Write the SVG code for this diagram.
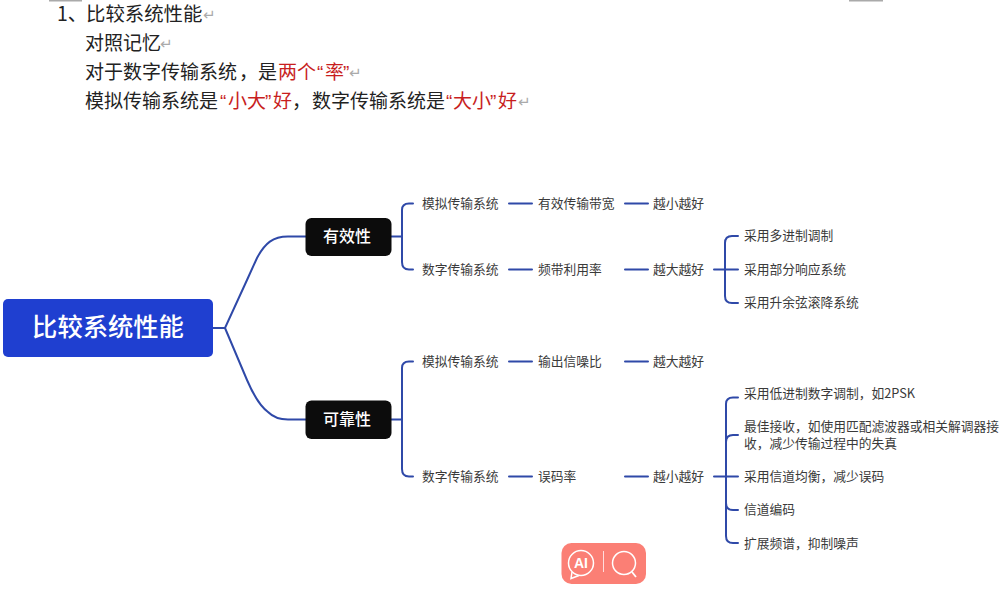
<svg xmlns="http://www.w3.org/2000/svg" width="1005" height="600" viewBox="0 0 1005 600">
<style>
text{font-family:"Noto Sans CJK SC","Noto Sans",sans-serif}
.d{font-size:19px;fill:#222}
.h1{font-size:19.400px;fill:#222}
.r{fill:#c81e1e}
.q{font-family:"Liberation Sans",sans-serif}
.m{fill:#aaa;font-family:"DejaVu Sans",sans-serif;font-size:15px}
.l{font-size:12.750px;fill:#3a3a3a}
.c{fill:none;stroke:#2f49a8;stroke-width:2;stroke-linecap:round}
.b{font-size:16px;fill:#fff;text-anchor:middle;font-weight:500}
</style>
<rect width="1005" height="600" fill="#fff"/>
<rect x="49" y="0" width="33" height="1.500" fill="#aaa"/>
<rect x="849" y="0" width="34" height="1.500" fill="#aaa"/>
<g id="header">
<text class="h1" x="57" y="21">1、</text><text class="h1" x="86" y="21">比较系统性能</text><text class="m" x="203" y="20">↵</text>
<text class="d" x="85" y="50">对照记忆</text><text class="m" x="160" y="49">↵</text>
<text class="d" x="85" y="79">对于数字传输系统</text><text class="d" x="239" y="79">，</text><text class="d" x="258" y="79">是</text><text class="d r" x="278" y="79">两个</text><text class="d r q" x="317" y="79">“</text><text class="d r" x="325" y="79">率</text><text class="d r q" x="343" y="79">”</text><text class="m" x="349" y="78">↵</text>
<text class="d" x="85" y="108">模拟传输系统是</text><text class="d r q" x="220" y="108">“</text><text class="d r" x="228" y="108">小大</text><text class="d r q" x="265" y="108">”</text><text class="d r" x="273" y="108">好</text><text class="d" x="292" y="108">，</text><text class="d" x="312" y="108">数字传输系统是</text><text class="d r q" x="446" y="108">“</text><text class="d r" x="453" y="108">大小</text><text class="d r q" x="490" y="108">”</text><text class="d r" x="498" y="108">好</text><text class="m" x="518" y="107">↵</text>
</g>
<g id="connectors">
<path class="c" d="M213 328H225L247 280L257 258C265 243 273 236.500 288 236.500H306M225 328L247 380C253 394 260 406 268 412C274 418 280 419.500 288 419.500H306"/>
<path class="c" d="M391 236.500H402M413 203.500H409Q402 203.500 402 210V262Q402 269.500 409 269.500H413"/>
<path class="c" d="M391 419.500H402M413 361.500H409Q402 361.500 402 368V469Q402 476.500 409 476.500H413"/>
<path class="c" d="M509 203.500H532M625 203.500H648M509 269.500H532M625 269.500H648M509 361.500H532M625 361.500H648M509 476.500H532M625 476.500H648"/>
<path class="c" d="M714 269.500H738M738 236H732Q725 236 725 243V296Q725 303 732 303H738"/>
<path class="c" d="M714 476.500H738M738 397.500H733Q726 397.500 726 404V536Q726 543 733 543H738M738 435H733Q726 435 726 442M726 503Q726 510 733 510H738"/>
</g>
<g id="root"><rect x="3" y="299" width="210" height="58" rx="5" fill="#1f3fd0"/><text x="108" y="336" font-size="25.300" font-weight="500" fill="#fff" text-anchor="middle">比较系统性能</text></g>
<g id="n1"><rect x="305.500" y="218" width="86" height="38" rx="6" fill="#0c0c0c"/><text class="b" x="347" y="242">有效性</text></g>
<g id="n2"><rect x="305.500" y="400.500" width="86" height="38.500" rx="6" fill="#0c0c0c"/><text class="b" x="347" y="425">可靠性</text></g>
<g id="n3"><text class="l" x="422" y="208">模拟传输系统</text></g>
<g id="n4"><text class="l" x="538" y="208">有效传输带宽</text></g>
<g id="n5"><text class="l" x="653" y="208">越小越好</text></g>
<g id="n6"><text class="l" x="422" y="274">数字传输系统</text></g>
<g id="n7"><text class="l" x="538" y="274">频带利用率</text></g>
<g id="n8"><text class="l" x="653" y="274">越大越好</text></g>
<g id="n9"><text class="l" x="744" y="240">采用多进制调制</text></g>
<g id="n10"><text class="l" x="744" y="274">采用部分响应系统</text></g>
<g id="n11"><text class="l" x="744" y="307">采用升余弦滚降系统</text></g>
<g id="n12"><text class="l" x="422" y="366">模拟传输系统</text></g>
<g id="n13"><text class="l" x="538" y="366">输出信噪比</text></g>
<g id="n14"><text class="l" x="653" y="366">越大越好</text></g>
<g id="n15"><text class="l" x="422" y="481">数字传输系统</text></g>
<g id="n16"><text class="l" x="538" y="481">误码率</text></g>
<g id="n17"><text class="l" x="653" y="481">越小越好</text></g>
<g id="n18"><text class="l" x="744" y="398">采用低进制数字调制，如2PSK</text></g>
<g id="n19"><text class="l" x="744" y="431">最佳接收，如使用匹配滤波器或相关解调器接</text><text class="l" x="744" y="448">收，减少传输过程中的失真</text></g>
<g id="n20"><text class="l" x="744" y="481">采用信道均衡，减少误码</text></g>
<g id="n21"><text class="l" x="744" y="514">信道编码</text></g>
<g id="n22"><text class="l" x="744" y="548">扩展频谱，抑制噪声</text></g>
<g id="ai-button">
<rect x="561.500" y="543" width="84.500" height="41" rx="10" fill="#fb7f75"/>
<circle cx="581" cy="563" r="12.500" fill="none" stroke="#fff" stroke-width="1.500"/>
<path d="M572 572L571 578.500L579 575.500" fill="none" stroke="#fff" stroke-width="1.500"/>
<text x="581" y="568" font-size="14" font-weight="700" fill="#fff" text-anchor="middle" class="q">AI</text>
<path d="M603.500 551V572" stroke="#fdd" stroke-width="1"/>
<circle cx="624" cy="563" r="11.500" fill="none" stroke="#fff" stroke-width="1.500"/>
<path d="M632 572L636 577" stroke="#fff" stroke-width="1.800"/>
</g>
</svg>
